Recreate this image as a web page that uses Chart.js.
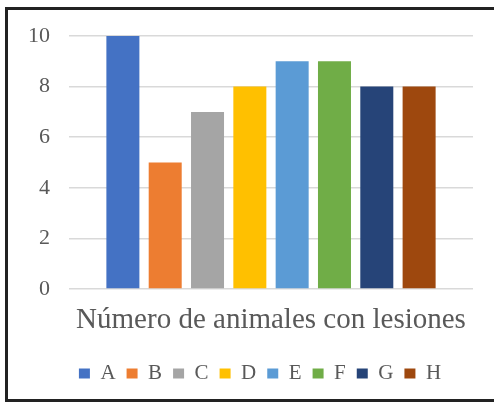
<!DOCTYPE html>
<html>
<head>
<meta charset="utf-8">
<script src="https://cdn.jsdelivr.net/npm/chart.js@4/dist/chart.umd.min.js"></script>
<style>
  html, body { margin: 0; padding: 0; background: #fff; }
  #wrap { position: relative; width: 494px; height: 403px; overflow: hidden; }
  #chart { position: absolute; left: 0; top: 0; }
  #frame {
    position: absolute; left: 5px; top: 7px; width: 520px; height: 389px;
    border: 3px solid #222; pointer-events: none;
  }
</style>
</head>
<body>
<div id="wrap">
  <canvas id="chart" width="494" height="403"></canvas>
  <div id="frame"></div>
</div>
<script>
const categories = ["Número de animales con lesiones"];
const seriesNames = ["A", "B", "C", "D", "E", "F", "G", "H"];
const seriesValues = [10, 5, 7, 8, 9, 9, 8, 8];
const seriesColors = ["#4472C4", "#ED7D31", "#A5A5A5", "#FFC000", "#5B9BD5", "#70AD47", "#264478", "#9E480E"];
const yTicks = [0, 2, 4, 6, 8, 10];

const textColor = "#595959";
const fontFamily = "'Liberation Serif', 'Times New Roman', serif";

const datasets = seriesNames.map((name, i) => ({
  label: name,
  data: [seriesValues[i]],
  backgroundColor: seriesColors[i],
  borderWidth: 0,
  categoryPercentage: 0.838,
  barPercentage: 0.78
}));

new Chart(document.getElementById("chart").getContext("2d"), {
  type: "bar",
  data: { labels: categories, datasets },
  options: {
    responsive: false,
    animation: false,
    layout: { padding: { top: 36, right: 0, left: 26, bottom: 9 } },
    plugins: {
      tooltip: { enabled: false },
      legend: {
        position: "bottom",
        labels: {
          color: textColor,
          font: { family: fontFamily, size: 21 },
          boxWidth: 11,
          boxHeight: 10,
          padding: 11
        }
      }
    },
    scales: {
      x: {
        afterFit: scale => { scale.height = 63; },
        grid: { display: false, drawTicks: false },
        border: { display: false },
        ticks: {
          color: textColor,
          font: { family: fontFamily, size: 29 },
          padding: 14
        }
      },
      y: {
        min: yTicks[0],
        max: yTicks[yTicks.length - 1],
        afterFit: scale => { scale.width = 43; },
        afterBuildTicks: scale => { scale.ticks = yTicks.map(v => ({ value: v })); },
        grid: { color: "#d9d9d9", lineWidth: 1.5, drawTicks: false },
        border: { display: false },
        ticks: {
          color: textColor,
          font: { family: fontFamily, size: 22 },
          padding: 19
        }
      },
      // empty right axis, only reserves the blank strip right of the plot
      yRight: {
        position: "right",
        afterFit: scale => { scale.width = 21; },
        grid: { display: false, drawTicks: false },
        border: { display: false },
        ticks: { display: false }
      }
    }
  }
});
</script>
</body>
</html>
